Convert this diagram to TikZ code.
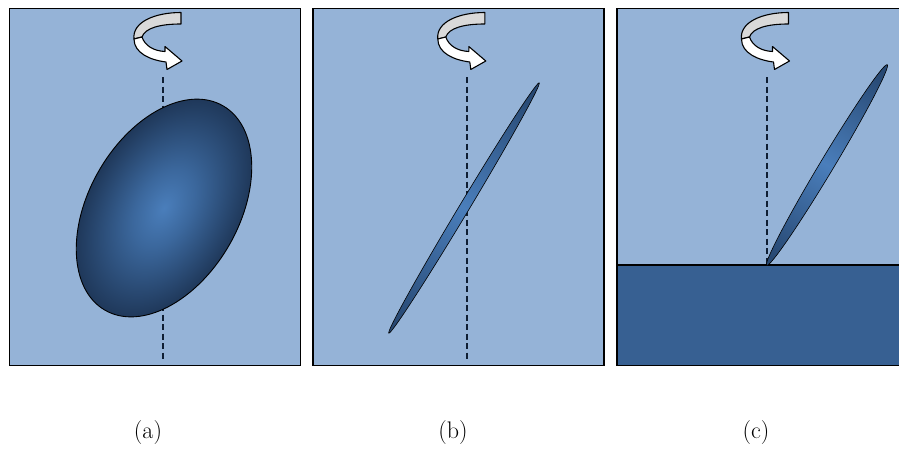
\documentclass[tikz,border=0pt]{standalone}
\usetikzlibrary{shapes.geometric}
\definecolor{bgblue}{HTML}{95B3D7}
\definecolor{ground}{HTML}{376092}
\definecolor{ellmid}{HTML}{4A7EBB}
\definecolor{ellin}{HTML}{3B679C}
\definecolor{elledge}{HTML}{1F385A}
\definecolor{rodedge}{HTML}{274872}
\definecolor{axisline}{HTML}{0F1E33}
\definecolor{backband}{HTML}{D9D9D9}
\pgfdeclareradialshading{blobshade}{\pgfpoint{0bp}{0bp}}{color(0bp)=(ellmid); color(9bp)=(ellin); color(25bp)=(elledge); color(50bp)=(elledge)}
\pgfdeclarehorizontalshading{rodshade}{100bp}{color(0bp)=(rodedge); color(27bp)=(rodedge); color(50bp)=(ellmid); color(73bp)=(rodedge); color(100bp)=(rodedge)}
\tikzset{
  panelbox/.style={draw=black, line width=1.8pt, fill=bgblue},
  axisdash/.style={draw=axisline, line width=1.3pt, dash pattern=on 6pt off 3.5pt},
  outl/.style={draw=black, line width=1.1pt},
  lbl/.style={anchor=base, font=\fontsize{24}{28}\selectfont},
  rotarr/.pic={
    \path[outl, fill=backband, line join=round]
      (181,-12.5) -- (181,-24) .. controls (160,-24) and (145,-28) .. (142,-37)
      -- (134,-39) .. controls (132,-22) and (155,-12.5) .. (181,-12.5) -- cycle;
    \path[outl, fill=white, line join=round]
      (134,-39) .. controls (134,-53) and (150,-60) .. (166,-62)
      -- (167,-69.5) -- (182,-61) -- (165,-46.5) -- (165,-51.5)
      .. controls (154,-51) and (145,-46) .. (142,-37) -- cycle;
  }
}
\begin{document}
\begin{tikzpicture}[x=1pt,y=1pt]
\useasboundingbox (0,-450) rectangle (899,0);
\clip (0,-450) rectangle (899,0);
\fill[white] (0,-450) rectangle (899,0);
% panel (a)
\path[panelbox] (9.5,-8.5) rectangle (300.5,-365.5);
\path[axisdash] (163,-77) -- (163,-359);
\begin{scope}[transform canvas={shift={(164,-208)}, rotate=60}]
  \shade[shading=blobshade, draw=black, line width=0.9pt] (0,0) ellipse (118 and 75);
\end{scope}
\pic at (0,0) {rotarr};
% panel (b)
\path[panelbox] (313.3,-8.5) rectangle (604.3,-365.5);
\path[axisdash] (467,-77) -- (467,-359);
\begin{scope}[transform canvas={shift={(464,-208)}, rotate=59}]
  \shade[shading=rodshade, shading angle=0, draw=black, line width=0.6pt] (0,0) ellipse (146 and 5);
\end{scope}
\pic at (303.8,0) {rotarr};
% panel (c)
\path[panelbox] (617,-8.5) rectangle (910,-365.5);
\path[fill=ground, draw=black, line width=1.2pt] (617,-265) rectangle (910,-365.5);
\path[draw=black, line width=1.8pt] (617,-8.5) rectangle (910,-365.5);
\path[axisdash] (767,-77) -- (767,-265);
\begin{scope}[transform canvas={shift={(827,-165)}, rotate=59}]
  \shade[shading=rodshade, shading angle=0, draw=black, line width=0.6pt] (0,0) ellipse (117 and 7);
\end{scope}
\pic at (607.5,0) {rotarr};
% labels
\node[lbl] (la) at (148,-438) {(a)};
\node[lbl] (lb) at (453,-438) {(b)};
\node[lbl] (lc) at (756,-438) {(c)};
\end{tikzpicture}
\end{document}
